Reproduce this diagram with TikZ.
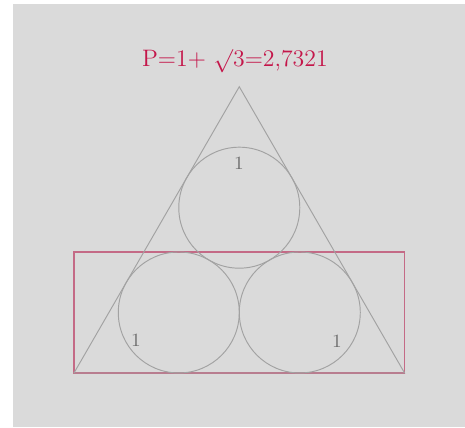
\documentclass[tikz,border=0pt]{standalone}
\usepackage{tikz}
\usepackage{xcolor}
\definecolor{bggray}{HTML}{DADADA}
\definecolor{linegray}{HTML}{A2A2A2}
\definecolor{boxred}{HTML}{C46A86}
\definecolor{titlered}{HTML}{C4164A}
\definecolor{numgray}{HTML}{6E6E6E}

\begin{document}
\begin{tikzpicture}[
  thin line/.style={draw=linegray, line width=0.45pt},
  box/.style={draw=boxred, line width=0.55pt},
  num/.style={text=numgray, font=\fontsize{8.8}{10}\selectfont, inner sep=0pt},
  title/.style={text=titlered, font=\fontsize{11.2}{13}\selectfont, inner sep=0pt}
]
  \useasboundingbox (-1.223,-0.893) rectangle (6.463,6.165);
  \fill[bggray] (-1.008,-0.893) rectangle (6.463,6.099);

  % triangle corners
  \coordinate (A) at (0,0);
  \coordinate (B) at (5.464,0);
  \coordinate (C) at (2.732,4.732);

  \draw[box] (A) rectangle (5.464,2);
  \draw[thin line] (A) -- (B) -- (C) -- cycle;

  \draw[thin line] (1.732,1) circle (1);
  \draw[thin line] (3.732,1) circle (1);
  \draw[thin line] (2.732,2.732) circle (1);

  \node[num] (top) at (2.727,3.47) {1};
  \node[num] (left) at (1.025,0.545) {1};
  \node[num] (right) at (4.347,0.529) {1};

  \node[title, anchor=base] (perim) at (2.66,5.06) {P=1+ $\surd$3=2,7321};
\end{tikzpicture}
\end{document}
